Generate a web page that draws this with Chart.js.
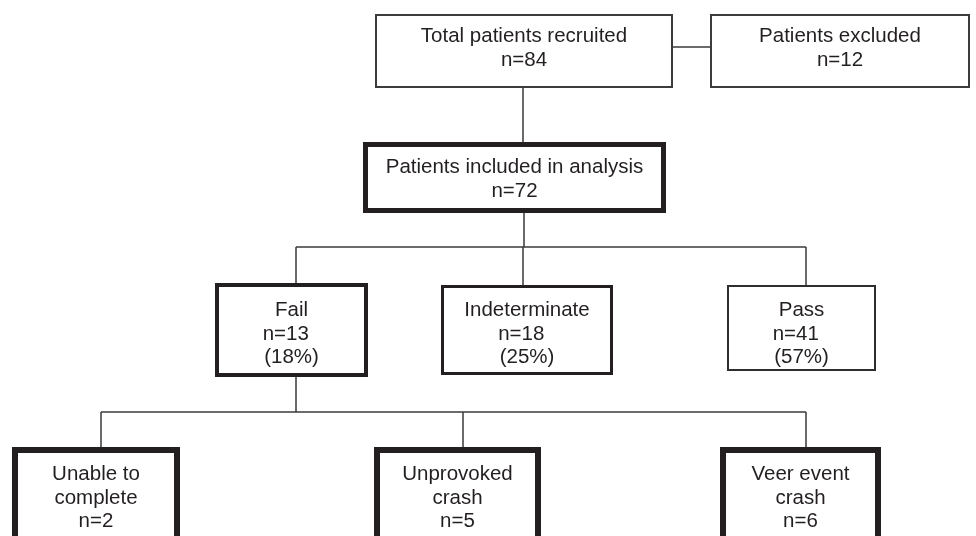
<!DOCTYPE html>
<html>
<head>
<meta charset="utf-8">
<title>Patient flow</title>
<script src="https://cdn.jsdelivr.net/npm/chart.js@4/dist/chart.umd.min.js"></script>
<style>
  html, body { margin: 0; padding: 0; background: #ffffff; }
  #wrap { position: relative; width: 976px; height: 536px; }
</style>
</head>
<body>
<div id="wrap"><canvas id="flow"></canvas></div>
<script>
/* ─── DATA ───────────────────────────────────────────────────
   One entry per box in the flow diagram. Box edges are given
   in diagram units (the page is 976 x 536 units, y downwards).
─────────────────────────────────────────────────────────────── */

const BOX_TEXT = [
  ['Total patients recruited', 'n=84'],
  ['Patients excluded', 'n=12'],
  ['Patients included in analysis', 'n=72'],
  ['Fail', 'n=13  ', '(18%)'],
  ['Indeterminate', 'n=18  ', '(25%)'],
  ['Pass', 'n=41  ', '(57%)'],
  ['Unable to', 'complete', 'n=2'],
  ['Unprovoked', 'crash', 'n=5'],
  ['Veer event', 'crash', 'n=6'],
];
const BOX_LEFT   = [376, 711, 365.5, 217, 442.5, 728, 15, 377, 723];
const BOX_RIGHT  = [672, 969, 663.5, 366, 611.5, 875, 177, 538, 878];
const BOX_TOP    = [15, 15, 144.5, 285, 286.5, 286, 450, 450, 450];
const BOX_BOTTOM = [87, 87, 210.5, 375, 373.5, 370, 560, 560, 560];
const BOX_TEXT_Y = [42, 42, 173, 316, 316, 316, 480, 480, 480];   // first baseline

/* Connector segments: [x1, y1, x2, y2] */
const LINKS = [
  [673, 47, 711, 47],
  [523, 88, 523, 142],
  [524, 213, 524, 247],
  [296, 247, 806, 247],
  [296, 247, 296, 283],
  [523, 247, 523, 285],
  [806, 247, 806, 285],
  [296, 377, 296, 412],
  [101, 412, 806, 412],
  [101, 412, 101, 447],
  [463, 412, 463, 447],
  [806, 412, 806, 447],
];

/* Styles */
const BOX_WIDTH  = [2, 2, 5, 4, 3, 2, 6, 6, 6];
const BOX_COLOR  = ['#3c3c3c', '#3c3c3c', '#231f20', '#231f20', '#231f20', '#2e2e2e', '#231f20', '#231f20', '#231f20'];
const LINE_COLOR = '#3a3a3a';
const TEXT_COLOR = '#231f20';
const FONT       = '20.5px "Liberation Sans", Arial, sans-serif';
const LINE_GAP   = 23.5;


/* ─── DATASETS ───────────────────────────────────────────────
   Every box is a closed polyline, every connector a two point
   line. The first edge is repeated so the start corner joins.
─────────────────────────────────────────────────────────────── */

const boxSets = BOX_TEXT.map((_, i) => {
  const l = BOX_LEFT[i], r = BOX_RIGHT[i], t = BOX_TOP[i], b = BOX_BOTTOM[i];
  return {
    data: [{ x: l, y: t }, { x: r, y: t }, { x: r, y: b }, { x: l, y: b }, { x: l, y: t }, { x: r, y: t }],
    showLine: true,
    borderColor: BOX_COLOR[i],
    borderWidth: BOX_WIDTH[i],
    borderJoinStyle: 'miter',
    pointRadius: 0,
    fill: false,
    tension: 0,
  };
});

const linkSets = LINKS.map((s) => ({
  data: [{ x: s[0], y: s[1] }, { x: s[2], y: s[3] }],
  showLine: true,
  borderColor: LINE_COLOR,
  borderWidth: 1.5,
  pointRadius: 0,
  fill: false,
}));


/* ─── BOX LABELS ─────────────────────────────────────────────
   Small plugin that writes the centred text into each box.
─────────────────────────────────────────────────────────────── */

const boxLabels = {
  id: 'boxLabels',
  afterDatasetsDraw(chart) {
    const { ctx, scales } = chart;
    ctx.save();
    ctx.font = FONT;
    ctx.fillStyle = TEXT_COLOR;
    ctx.textAlign = 'center';
    ctx.textBaseline = 'alphabetic';
    BOX_TEXT.forEach((lines, i) => {
      const cx = scales.x.getPixelForValue((BOX_LEFT[i] + BOX_RIGHT[i]) / 2);
      lines.forEach((txt, k) => {
        const y = scales.y.getPixelForValue(BOX_TEXT_Y[i] + k * LINE_GAP);
        ctx.fillText(txt, cx, y);
      });
    });
    ctx.restore();
  },
};


/* ─── CHART ──────────────────────────────────────────────────── */

new Chart(document.getElementById('flow'), {
  type: 'scatter',
  data: { datasets: [...linkSets, ...boxSets] },
  options: {
    responsive: true,
    maintainAspectRatio: false,
    animation: false,
    layout: { padding: 0 },
    plugins: { legend: { display: false }, tooltip: { enabled: false } },
    scales: {
      x: { type: 'linear', min: 0, max: 976, display: false },
      y: { type: 'linear', min: 0, max: 536, reverse: true, display: false },
    },
  },
  plugins: [boxLabels],
});
</script>
</body>
</html>
